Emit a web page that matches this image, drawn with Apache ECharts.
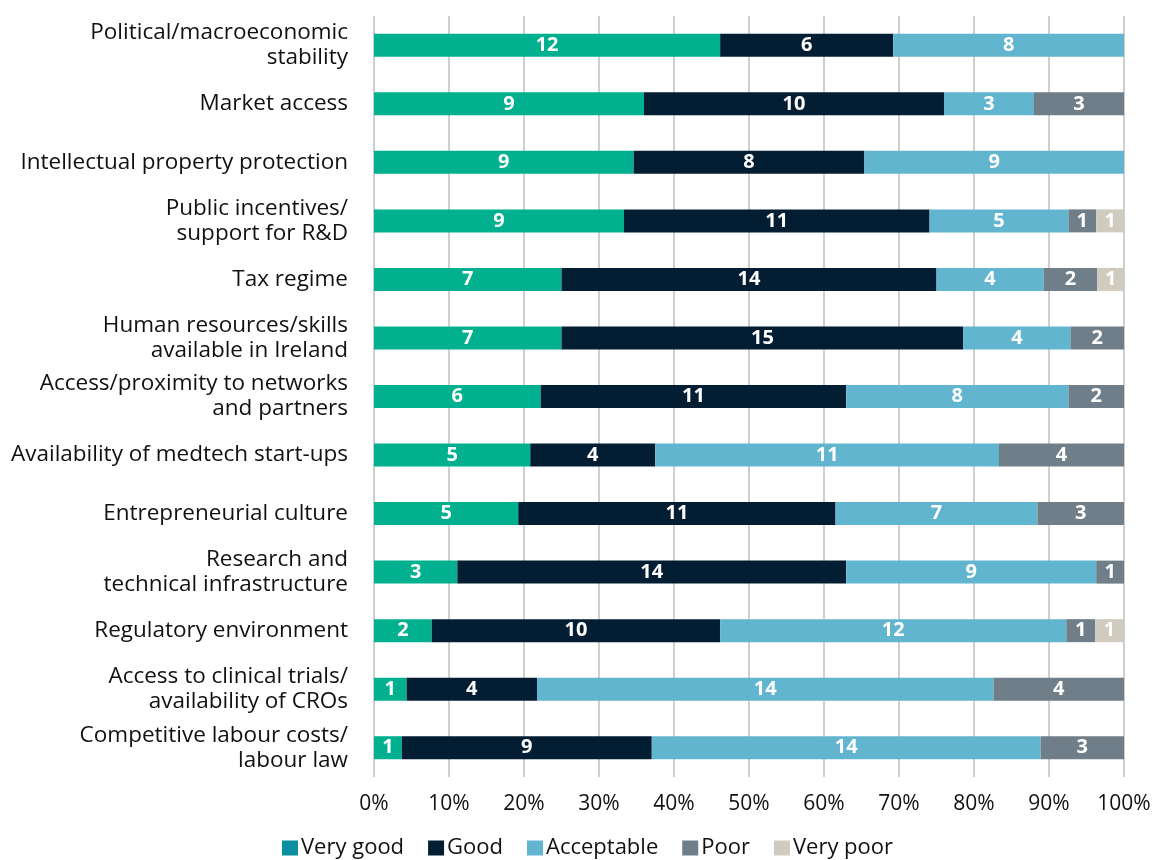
<!DOCTYPE html>
<html>
<head>
<meta charset="utf-8">
<script src="https://cdn.jsdelivr.net/npm/echarts@6/dist/echarts.min.js"></script>
<style>
  html, body { margin: 0; padding: 0; background: #ffffff; }
  #chart { width: 1155px; height: 860px; }
</style>
</head>
<body>
<div id="chart"></div>
<script>
// Ratings of location factors (number of respondents per rating)
const categories = [
  'Political/macroeconomic\nstability',
  'Market access',
  'Intellectual property protection',
  'Public incentives/\nsupport for R&D',
  'Tax regime',
  'Human resources/skills\navailable in Ireland',
  'Access/proximity to networks\nand partners',
  'Availability of medtech start-ups',
  'Entrepreneurial culture',
  'Research and\ntechnical infrastructure',
  'Regulatory environment',
  'Access to clinical trials/\navailability of CROs',
  'Competitive labour costs/\nlabour law'
];

const seriesNames = ['Very good', 'Good', 'Acceptable', 'Poor', 'Very poor'];

const veryGood   = [12, 9, 9, 9, 7, 7, 6, 5, 5, 3, 2, 1, 1];
const good       = [6, 10, 8, 11, 14, 15, 11, 4, 11, 14, 10, 4, 9];
const acceptable = [8, 3, 9, 5, 4, 4, 8, 11, 7, 9, 12, 14, 14];
const poor       = [0, 3, 0, 1, 2, 2, 2, 4, 3, 1, 1, 4, 3];
const veryPoor   = [0, 0, 0, 1, 1, 0, 0, 0, 0, 0, 1, 0, 0];

const tickLabels = ['0%', '10%', '20%', '30%', '40%', '50%', '60%', '70%', '80%', '90%', '100%'];

const barColors  = ['#00B08E', '#031E33', '#62B5CF', '#6F7E89', '#CFCBBE'];
const legendColors = ['#0A8FA0', '#031E33', '#62B5CF', '#6F7E89', '#CFCBBE'];

const counts = [veryGood, good, acceptable, poor, veryPoor];
const totals = categories.map((_, i) => counts.reduce((s, arr) => s + arr[i], 0));

const FONT = '"Open Sans", Lato, sans-serif';

const series = seriesNames.map((name, k) => ({
  name: name,
  type: 'bar',
  stack: 'total',
  barWidth: 23,
  itemStyle: { color: barColors[k] },
  label: {
    show: true,
    position: 'inside',
    color: '#ffffff',
    fontFamily: FONT,
    fontSize: 20,
    fontWeight: 'bold',
    formatter: p => (counts[k][p.dataIndex] > 0 ? String(counts[k][p.dataIndex]) : '')
  },
  data: counts[k].map((v, i) => (v > 0 ? v / totals[i] * 100 : null))
}));

const chart = echarts.init(document.getElementById('chart'), null, { renderer: 'canvas' });
chart.setOption({
  animation: false,
  backgroundColor: '#ffffff',
  grid: { left: 374, right: 31, top: 16, bottom: 83, containLabel: false },
  legend: {
    bottom: -4,
    left: 277,
    itemWidth: 16,
    itemHeight: 15,
    itemGap: 24,
    icon: 'rect',
    textStyle: { fontFamily: FONT, fontSize: 22, color: '#111111', padding: [0, 0, 0, -2] },
    data: seriesNames.map((n, k) => ({ name: n, itemStyle: { color: legendColors[k] } }))
  },
  xAxis: {
    type: 'value',
    min: 0,
    max: 100,
    interval: 10,
    axisLine: { show: false },
    axisTick: { show: false },
    splitLine: { show: true, lineStyle: { color: '#BFBFBF', width: 1.5 } },
    axisLabel: {
      fontFamily: FONT,
      fontSize: 21,
      color: '#111111',
      margin: 17,
      formatter: v => tickLabels[Math.round(v / 10)]
    }
  },
  yAxis: {
    type: 'category',
    inverse: true,
    data: categories,
    axisLine: { show: false },
    axisTick: { show: false },
    axisLabel: {
      fontFamily: FONT,
      fontSize: 22.5,
      lineHeight: 25,
      color: '#111111',
      margin: 26,
      align: 'right'
    }
  },
  series: series
});
</script>
</body>
</html>
